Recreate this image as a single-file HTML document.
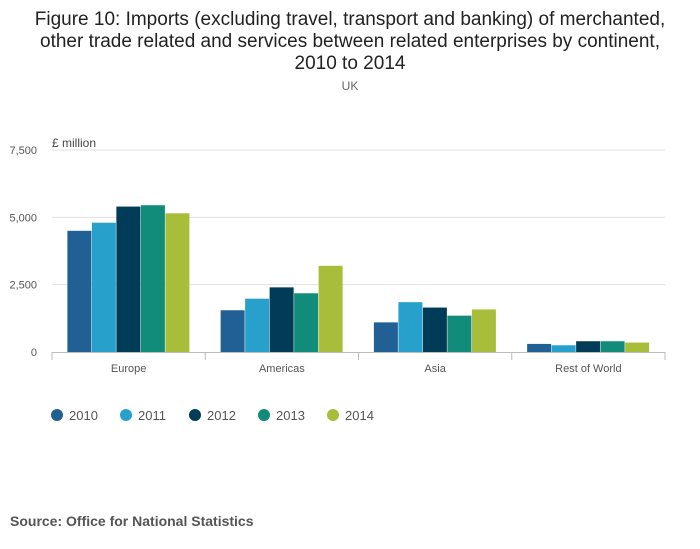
<!DOCTYPE html>
<html><head><meta charset="utf-8"><style>
body{margin:0;background:#fff;font-family:"Liberation Sans",sans-serif;}
#wrap{position:relative;width:700px;height:549px;overflow:hidden;}
</style></head><body>
<div id="wrap">
<svg id="c" width="700" height="549" xmlns="http://www.w3.org/2000/svg">
<text x="350" y="25" text-anchor="middle" font-size="19" fill="#222">Figure 10: Imports (excluding travel, transport and banking) of merchanted,</text>
<text x="350" y="47" text-anchor="middle" font-size="19" fill="#222">other trade related and services between related enterprises by continent,</text>
<text x="350" y="69" text-anchor="middle" font-size="19" fill="#222">2010 to 2014</text>
<text x="350" y="90" text-anchor="middle" font-size="12" fill="#666">UK</text>
<text x="52" y="147" font-size="12" fill="#444">£ million</text>
<text x="10" y="526" font-size="14" font-weight="bold" fill="#555">Source: Office for National Statistics</text>
<g id="grid"></g><g id="bars"></g><g id="axes"></g><g id="legend"></g>
</svg>
</div>
<script>
const categories=["Europe","Americas","Asia","Rest of World"];
const seriesNames=["2010","2011","2012","2013","2014"];
const s2010=[4500,1550,1100,300];
const s2011=[4800,1980,1850,250];
const s2012=[5400,2400,1650,400];
const s2013=[5450,2180,1350,400];
const s2014=[5150,3200,1580,350];
const yTicks=[0,2500,5000,7500];
const yTickLabels=["0","2,500","5,000","7,500"];
const colors=["#206095","#27a0cc","#003c57","#118c7b","#a8bd3a"];
const series=[s2010,s2011,s2012,s2013,s2014];
const NS="http://www.w3.org/2000/svg";
const x0=52,x1=665,y0=352,yTop=150,yMax=7500;
const y=v=>y0-(v/yMax)*(y0-yTop);
const gw=(x1-x0)/categories.length;
const bw=24.5,pad=(gw-bw*5)/2;
function mk(t,a,p){const e=document.createElementNS(NS,t);for(const k in a)e.setAttribute(k,a[k]);p.appendChild(e);return e;}
const grid=document.getElementById('grid'),bars=document.getElementById('bars'),axes=document.getElementById('axes'),leg=document.getElementById('legend');
yTicks.forEach((v,i)=>{
 if(i>0){const l=mk('line',{x1:x0,x2:x1,y1:y(v),y2:y(v),stroke:'#e0e0e0'},grid);
 
 }
 const t=mk('text',{x:37,y:y(v)+4,'text-anchor':'end','font-size':11,fill:'#555'},axes);t.textContent=yTickLabels[i];
 
 
});
const ax=mk('line',{x1:x0,x2:x1,y1:y0+0.5,y2:y0+0.5,stroke:'#bbb'},axes);


categories.forEach((c,ci)=>{
 const gx=x0+ci*gw;
 const tk=mk('line',{x1:gx,x2:gx,y1:y0,y2:y0+8,stroke:'#bbb'},axes);
 
 
 const t=mk('text',{x:gx+gw/2,y:y0+20,'text-anchor':'middle','font-size':11,fill:'#555'},axes);t.textContent=c;
 
 
 series.forEach((s,si)=>{
  const r=mk('rect',{x:gx+pad+si*bw,y:y(s[ci]),width:bw-0.5,height:y0-y(s[ci]),fill:colors[si]},bars);
  
  
 });
});
const tkE=mk('line',{x1:x1,x2:x1,y1:y0,y2:y0+8,stroke:'#bbb'},axes);


seriesNames.forEach((n,i)=>{
 const lx=57+i*69;
 const g=mk('g',{},leg);
 
 
 mk('circle',{cx:lx,cy:415,r:6,fill:colors[i]},g);
 const t=mk('text',{x:lx+12,y:420,'font-size':13,fill:'#555'},g);t.textContent=n;
});
</script>
</body></html>
